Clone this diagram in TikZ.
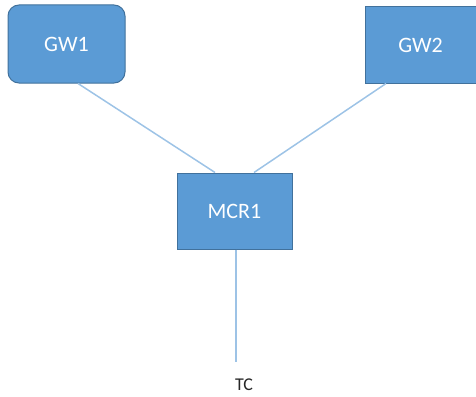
\documentclass[tikz,border=0pt]{standalone}
\usepackage{fontspec}
\setmainfont{Carlito}
\usetikzlibrary{calc}
\definecolor{boxfill}{HTML}{5B9BD5}
\definecolor{boxline}{HTML}{41719C}
\definecolor{linkc}{HTML}{9DC3E6}
\tikzset{
  devbox/.style={draw=boxline, fill=boxfill, line width=1pt, text=white,
    font=\fontsize{22}{25}\selectfont, inner sep=0pt},
  link/.style={draw=linkc, line width=1.5pt},
  lbl/.style={font=\fontsize{18}{21}\selectfont, text=black!85, inner sep=0pt}
}
\begin{document}
\begin{tikzpicture}[x=1pt,y=-1pt]
\useasboundingbox (0,0) rectangle (476,396);
\node[devbox, rounded corners=11pt, minimum width=117pt, minimum height=78pt] (GW1) at (66.5,44) {GW1};
\node[devbox, minimum width=111pt, minimum height=76pt] (GW2) at (420.5,45) {GW2};
\node[devbox, minimum width=115pt, minimum height=76pt] (MCR1) at (234.5,211) {MCR1};
\node[lbl, anchor=base] (TC) at (244,390) {TC};
\coordinate (tcend) at ($(MCR1.south)+(1.5,112)$);
\draw[link] ($(GW1.south)+(11.5,0)$) -- ($(MCR1.north)+(-19.5,0)$);
\draw[link] ($(GW2.south)+(-34.5,0)$) -- ($(MCR1.north)+(19.5,0)$);
\draw[link] ($(MCR1.south)+(1.5,0)$) -- (tcend);
\end{tikzpicture}
\end{document}
